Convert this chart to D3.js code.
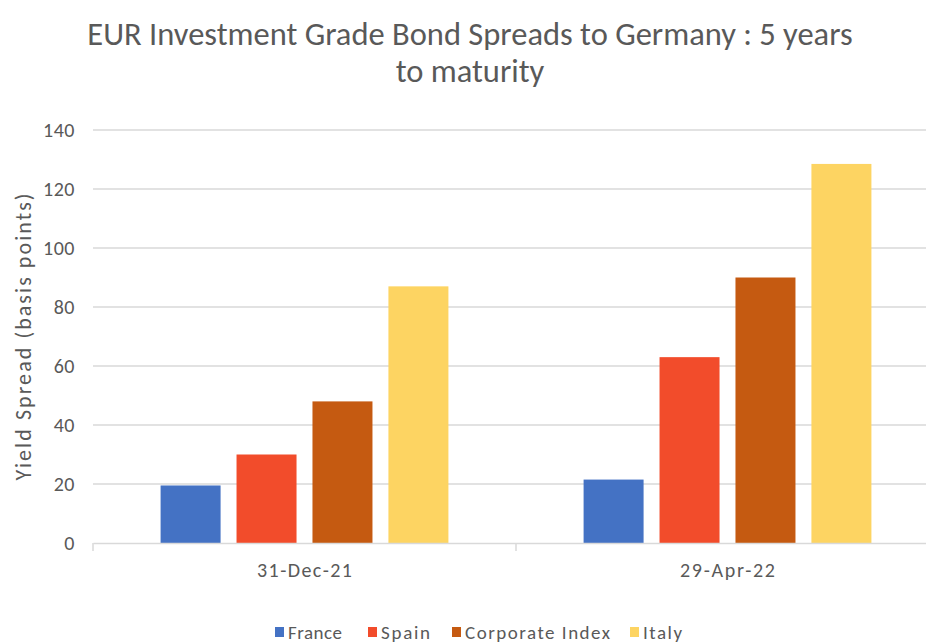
<!DOCTYPE html>
<html>
<head>
<meta charset="utf-8">
<script src="https://cdn.jsdelivr.net/npm/d3@7"></script>
<style>
	body { margin: 0; background: #fff; }
	text { font-family: Carlito, Calibri, "Liberation Sans Narrow", "DejaVu Sans Condensed", "Open Sans", sans-serif; }
</style>
</head>
<body>
<svg id="chart" width="926" height="643"></svg>
<script>
"use strict"

// data
var categories = ["31-Dec-21", "29-Apr-22"];
var seriesNames = ["France", "Spain", "Corporate Index", "Italy"];
var france = [19.5, 21.5];
var spain = [30, 63];
var corporate = [48, 90];
var italy = [87, 128.5];
var yTicks = [0, 20, 40, 60, 80, 100, 120, 140];
var titleLines = ["EUR Investment Grade Bond Spreads to Germany : 5 years", "to maturity"];

var seriesValues = [france, spain, corporate, italy];
var colors = ["#4472C4", "#F24C2B", "#C55A11", "#FDD462"];

var svg = d3.select("#chart");
var plotLeft = 93, plotRight = 939, plotTop = 130, plotBottom = 543;
var textGray = "#595959";

var x0 = d3.scaleBand()
	.domain(categories)
	.range([plotLeft, plotRight])
	.padding(0);
var x1 = d3.scaleBand()
	.domain(seriesNames)
	.range([0, x0.bandwidth()])
	.paddingInner(0.21)
	.paddingOuter(0.89);
var y = d3.scaleLinear()
	.domain([0, 140])
	.range([plotBottom, plotTop]);

// gridlines
svg.append("g")
	.selectAll("line")
	.data(yTicks.filter(function(d) { return d > 0; }))
	.join("line")
	.attr("x1", plotLeft)
	.attr("x2", plotRight)
	.attr("y1", function(d) { return y(d); })
	.attr("y2", function(d) { return y(d); })
	.attr("stroke", "#d9d9d9")
	.attr("stroke-width", 1.5)
	;

// y tick labels
svg.append("g")
	.selectAll("text")
	.data(yTicks)
	.join("text")
	.attr("x", 75)
	.attr("y", function(d) { return y(d); })
	.attr("dy", "0.36em")
	.attr("text-anchor", "end")
	.attr("font-size", 20)
	.attr("letter-spacing", 0.5)
	.attr("fill", textGray)
	.text(function(d) { return d; })
	;

// bars
var rows = [];
categories.forEach(function(c, i) {
	seriesNames.forEach(function(s, j) {
		rows.push({cat: c, name: s, value: seriesValues[j][i], color: colors[j]});
	});
});
svg.append("g")
	.selectAll("rect")
	.data(rows)
	.join("rect")
	.attr("x", function(d) { return x0(d.cat) + x1(d.name); })
	.attr("width", x1.bandwidth())
	.attr("y", function(d) { return y(d.value); })
	.attr("height", function(d) { return y(0) - y(d.value); })
	.attr("fill", function(d) { return d.color; })
	;

// x axis
var xAxis = d3.axisBottom(x0).tickSize(0).tickPadding(27);
var gx = svg.append("g")
	.attr("transform", "translate(0," + plotBottom + ")")
	.call(xAxis);
gx.attr("font-family", null).attr("font-size", null);
gx.select(".domain").attr("stroke", "#d9d9d9").attr("stroke-width", 1.5);
gx.selectAll(".tick text")
	.attr("dy", "0.36em")
	.attr("font-size", 20)
	.attr("textLength", 95)
	.attr("fill", textGray);
// category divider ticks
gx.selectAll(".divider")
	.data([plotLeft, x0(categories[1]), plotRight])
	.join("line")
	.attr("class", "divider")
	.attr("x1", function(d) { return d; })
	.attr("x2", function(d) { return d; })
	.attr("y1", 0)
	.attr("y2", 8)
	.attr("stroke", "#d9d9d9")
	.attr("stroke-width", 1.5)
	;

// y axis title
svg.append("text")
	.attr("transform", "translate(31,337) rotate(-90)")
	.attr("text-anchor", "middle")
	.attr("font-size", 22)
	.attr("textLength", 287)
	.attr("fill", textGray)
	.text("Yield Spread (basis points)")
	;

// chart title
svg.append("g")
	.selectAll("text")
	.data(titleLines)
	.join("text")
	.attr("x", 470)
	.attr("y", function(d, i) { return 45 + i * 37; })
	.attr("text-anchor", "middle")
	.attr("font-size", 32.5)
	.attr("fill", textGray)
	.text(function(d) { return d; })
	;

// legend
var legendX = [275, 368, 452, 630];
var legendTextW = [54, 49, 145, 39];
var lg = svg.append("g")
	.selectAll("g")
	.data(seriesNames)
	.join("g")
	.attr("transform", function(d, i) { return "translate(" + legendX[i] + ",627)"; })
	;
lg.append("rect")
	.attr("width", 9)
	.attr("height", 10)
	.attr("fill", function(d, i) { return colors[i]; })
	;
lg.append("text")
	.attr("x", 13)
	.attr("y", 5)
	.attr("dy", "0.36em")
	.attr("font-size", 19)
	.attr("textLength", function(d, i) { return legendTextW[i]; })
	.attr("fill", textGray)
	.text(function(d) { return d; })
	;
</script>
</body>
</html>
